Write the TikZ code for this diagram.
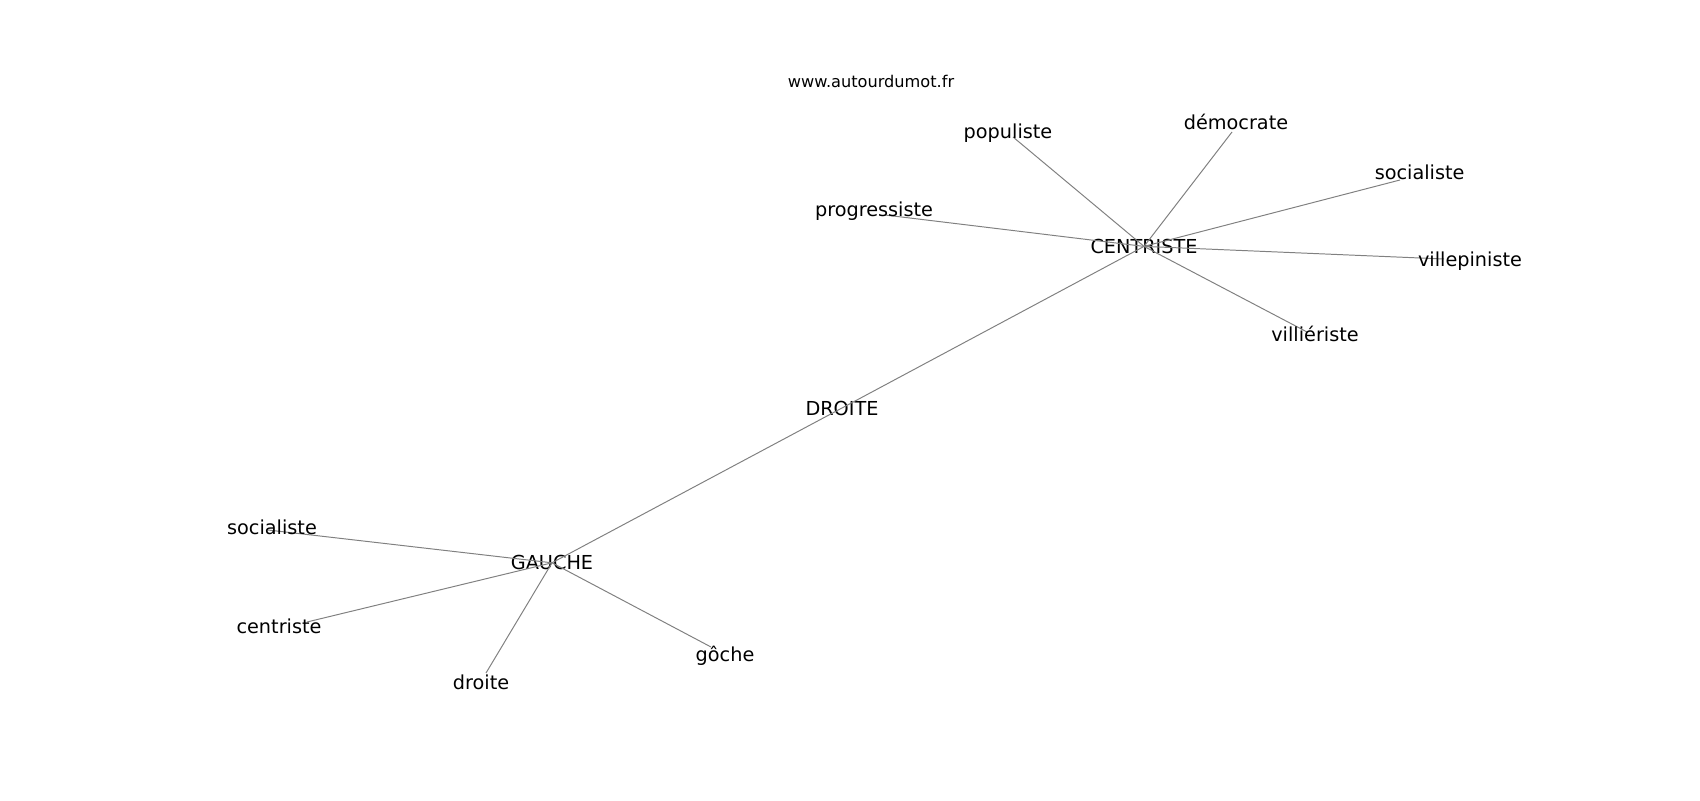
\documentclass[tikz,border=0pt]{standalone}
\usepackage{fontspec}
\setmainfont{DejaVu Sans}
\begin{document}
\begin{tikzpicture}[thin,
	word/.style={inner sep=0pt,font=\fontsize{13.7pt}{16pt}\selectfont},
	leafword/.style={word,anchor=base},
	link/.style={gray,line width=0.7pt}]
	\useasboundingbox (0,0) rectangle (42.5,20);
	\node[anchor=base,inner sep=0pt,font=\fontsize{11.5pt}{14pt}\selectfont] (site) at (21.775,17.81) {www.autourdumot.fr};
	% hubs
	\node[word] (droite) at (21.05,9.8) {DROITE};
	\node[word] (centr) at (28.6,13.84) {CENTRISTE};
	\node[word] (gauche) at (13.8,5.93) {GAUCHE};
	% ends of the links
	\coordinate (e-popul) at (25.325,16.575);
	\coordinate (e-democ) at (30.8,16.7);
	\coordinate (e-socia) at (35.0,15.5);
	\coordinate (e-progr) at (22.125,14.625);
	\coordinate (e-villep) at (36.1,13.525);
	\coordinate (e-villi) at (32.675,11.7);
	\coordinate (e-socib) at (6.7,6.75);
	\coordinate (e-centb) at (7.675,4.45);
	\coordinate (e-droib) at (12.15,3.175);
	\coordinate (e-goche) at (17.775,3.825);
	\draw[link] (gauche.center) -- (droite.center);
	\draw[link] (droite.center) -- (centr.center);
	\draw[link] (centr.center) -- (e-popul);
	\draw[link] (centr.center) -- (e-democ);
	\draw[link] (centr.center) -- (e-socia);
	\draw[link] (centr.center) -- (e-progr);
	\draw[link] (centr.center) -- (e-villep);
	\draw[link] (centr.center) -- (e-villi);
	\draw[link] (gauche.center) -- (e-socib);
	\draw[link] (gauche.center) -- (e-centb);
	\draw[link] (gauche.center) -- (e-droib);
	\draw[link] (gauche.center) -- (e-goche);
	% leaf labels
	\node[leafword] (popul) at (25.2,16.54) {populiste};
	\node[leafword] (democ) at (30.9,16.75) {démocrate};
	\node[leafword] (socia) at (35.49,15.5) {socialiste};
	\node[leafword] (progr) at (21.85,14.575) {progressiste};
	\node[leafword] (villep) at (36.75,13.325) {villepiniste};
	\node[leafword] (villi) at (32.875,11.45) {villiériste};
	\node[leafword] (socib) at (6.8,6.65) {socialiste};
	\node[leafword] (centb) at (6.975,4.175) {centriste};
	\node[leafword] (droib) at (12.025,2.775) {droite};
	\node[leafword] (goche) at (18.125,3.475) {gôche};
\end{tikzpicture}
\end{document}
